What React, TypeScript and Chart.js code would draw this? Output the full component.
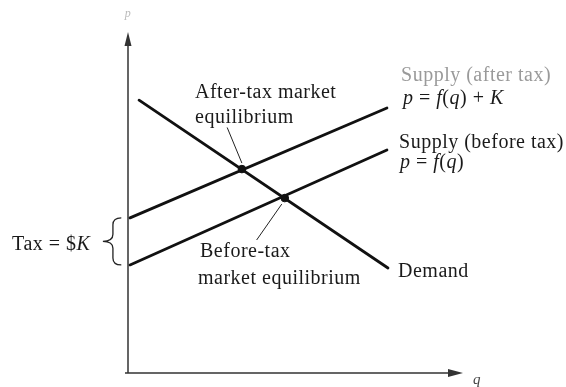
import React, { useEffect, useRef } from "react";
import { Chart, registerables } from "chart.js";

Chart.register(...registerables);

// Quantity (q) and price (p) values
const DEMAND_Q = [0.33, 7.76];
const DEMAND_P = [8.0, 3.08];
const SUPPLY_Q = [0.06, 7.73];
const SUPPLY_BEFORE_P = [3.17, 6.54];
const SUPPLY_AFTER_P = [4.55, 7.77];
const EQUILIBRIUM_Q = [3.4, 4.68];
const EQUILIBRIUM_P = [5.98, 5.13];
const AXIS_MAX_Q = 10;
const AXIS_MAX_P = 10;

type Seg = [string, boolean];

const FONT = '"Liberation Serif", "Times New Roman", serif';

function drawRich(ctx: CanvasRenderingContext2D, segs: Seg[], x: number, y: number, size: number, color: string) {
  ctx.save();
  ctx.fillStyle = color;
  ctx.textBaseline = "alphabetic";
  ctx.textAlign = "left";
  try { (ctx as any).letterSpacing = "0.5px"; } catch (e) {}
  let cx = x;
  for (const [t, it] of segs) {
    ctx.font = `${it ? "italic " : ""}${size}px ${FONT}`;
    ctx.fillText(t, cx, y);
    cx += ctx.measureText(t).width;
  }
  ctx.restore();
}

const annotate = {
  id: "annotate",
  beforeDatasetsDraw(chart: any) {
    const { ctx } = chart;
    const xs = chart.scales.x;
    const ys = chart.scales.y;
    const X = (v: number) => xs.getPixelForValue(v);
    const Y = (v: number) => ys.getPixelForValue(v);
    ctx.save();
    const x0 = X(0), y0 = Y(0), yTop = Y(AXIS_MAX_P), xRight = X(AXIS_MAX_Q);
    ctx.strokeStyle = "#333";
    ctx.fillStyle = "#333";
    ctx.lineWidth = 1.5;
    ctx.beginPath();
    ctx.moveTo(x0, y0);
    ctx.lineTo(x0, yTop + 8);
    ctx.moveTo(x0 - 3, y0);
    ctx.lineTo(xRight - 8, y0);
    ctx.stroke();
    ctx.beginPath();
    ctx.moveTo(x0, yTop);
    ctx.lineTo(x0 - 3.5, yTop + 14);
    ctx.lineTo(x0 + 3.5, yTop + 14);
    ctx.closePath();
    ctx.fill();
    ctx.beginPath();
    ctx.moveTo(xRight, y0);
    ctx.lineTo(xRight - 15, y0 - 4);
    ctx.lineTo(xRight - 15, y0 + 4);
    ctx.closePath();
    ctx.fill();
    ctx.restore();
  },
  afterDatasetsDraw(chart: any) {
    const { ctx } = chart;
    const xs = chart.scales.x;
    const ys = chart.scales.y;
    const X = (v: number) => xs.getPixelForValue(v);
    const Y = (v: number) => ys.getPixelForValue(v);
    const S = 20;
    const ink = "#1a1a1a";

    // leader lines
    ctx.save();
    ctx.strokeStyle = "#222";
    ctx.lineWidth = 1;
    ctx.beginPath();
    ctx.moveTo(X(2.96), Y(7.2));
    ctx.lineTo(X(EQUILIBRIUM_Q[0]), Y(EQUILIBRIUM_P[0]) - 6);
    ctx.moveTo(X(EQUILIBRIUM_Q[1]) - 3, Y(EQUILIBRIUM_P[1]) + 6);
    ctx.lineTo(X(3.84), Y(3.9));
    ctx.stroke();
    ctx.restore();

    // labels
    drawRich(ctx, [["After-tax market", false]], X(2.0), Y(8.06), S, ink);
    drawRich(ctx, [["equilibrium", false]], X(2.0), Y(7.33), S, ink);
    drawRich(ctx, [["Before-tax", false]], X(2.15), Y(3.4), S, ink);
    drawRich(ctx, [["market equilibrium", false]], X(2.09), Y(2.61), S, ink);
    drawRich(ctx, [["Supply (after tax)", false]], X(8.15), Y(8.56), S, "#9a9a9a");
    drawRich(ctx, [["p", true], [" = ", false], ["f", true], ["(", false], ["q", true], [") + ", false], ["K", true]], X(8.21), Y(7.89), S, ink);
    drawRich(ctx, [["Supply (before tax)", false]], X(8.09), Y(6.6), S, ink);
    drawRich(ctx, [["p", true], [" = ", false], ["f", true], ["(", false], ["q", true], [")", false]], X(8.12), Y(6.01), S, ink);
    drawRich(ctx, [["Demand", false]], X(8.06), Y(2.82), S, ink);
    drawRich(ctx, [["Tax = $", false], ["K", true]], X(-3.46), Y(3.61), S, ink);
    drawRich(ctx, [["q", true]], X(10.3), Y(-0.33), 15, "#444");
    drawRich(ctx, [["p", true]], X(-0.1), Y(10.45), 12, "#bbb");

    // brace
    const top = Y(SUPPLY_AFTER_P[0]);
    const bot = Y(SUPPLY_BEFORE_P[0]);
    const mid = (top + bot) / 2;
    const xr = X(-0.2), xm = X(-0.45), xl = X(-0.75);
    ctx.save();
    ctx.strokeStyle = "#222";
    ctx.lineWidth = 1.3;
    ctx.beginPath();
    ctx.moveTo(xr, top);
    ctx.quadraticCurveTo(xm, top, xm, top + 7);
    ctx.lineTo(xm, mid - 7);
    ctx.quadraticCurveTo(xm, mid, xl, mid);
    ctx.quadraticCurveTo(xm, mid, xm, mid + 7);
    ctx.lineTo(xm, bot - 7);
    ctx.quadraticCurveTo(xm, bot, xr, bot);
    ctx.stroke();
    ctx.restore();
  },
};

function pts(qs: number[], ps: number[]) {
  return qs.map((q, i) => ({ x: q, y: ps[i] }));
}

export default function App() {
  const ref = useRef<HTMLCanvasElement>(null);
  useEffect(() => {
    if (!ref.current) return;
    const lineDs = (label: string, data: any) => ({
      label,
      data,
      showLine: true,
      borderColor: "#111",
      borderWidth: 2.8,
      pointRadius: 0,
      borderCapStyle: "round",
    });
    const chart = new Chart(ref.current, {
      type: "scatter",
      data: {
        datasets: [
          lineDs("Demand", pts(DEMAND_Q, DEMAND_P)),
          lineDs("Supply (after tax)", pts(SUPPLY_Q, SUPPLY_AFTER_P)),
          lineDs("Supply (before tax)", pts(SUPPLY_Q, SUPPLY_BEFORE_P)),
          {
            label: "Equilibrium",
            data: pts(EQUILIBRIUM_Q, EQUILIBRIUM_P),
            pointRadius: 3.8,
            pointBackgroundColor: "#111",
            pointBorderColor: "#111",
            showLine: false,
          } as any,
        ],
      },
      options: {
        animation: false,
        responsive: false,
        maintainAspectRatio: false,
        layout: { padding: { left: 128, right: 103, top: 32, bottom: 14 } },
        plugins: { legend: { display: false }, tooltip: { enabled: false } },
        scales: {
          x: { type: "linear", min: 0, max: AXIS_MAX_Q, display: false },
          y: { type: "linear", min: 0, max: AXIS_MAX_P, display: false },
        },
      } as any,
      plugins: [annotate],
    });
    return () => chart.destroy();
  }, []);
  return (
    <div style={{ position: "fixed", left: 0, top: 0, width: 566, height: 387, background: "#fff" }}>
      <canvas ref={ref} width={566} height={387} style={{ width: 566, height: 387 }} />
    </div>
  );
}
